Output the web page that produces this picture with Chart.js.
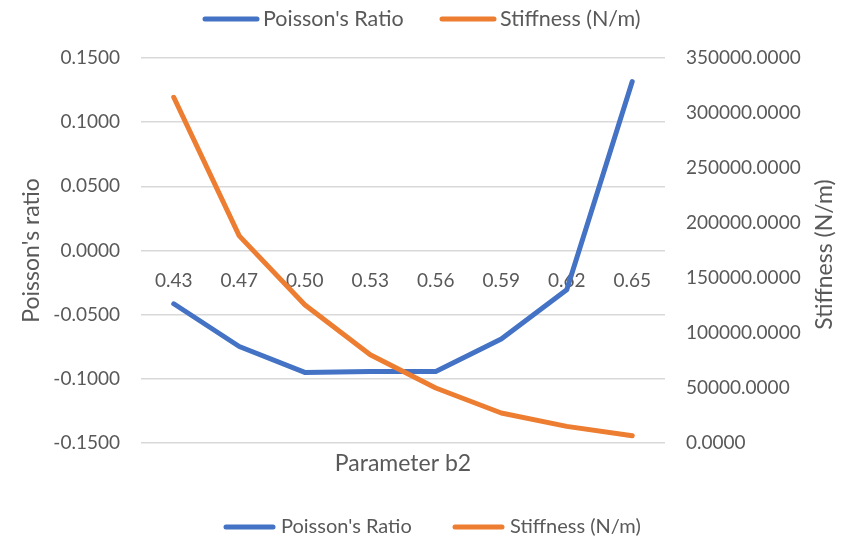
<!DOCTYPE html>
<html>
<head>
<meta charset="utf-8">
<title>Poisson's ratio and stiffness vs parameter b2</title>
<script src="https://cdn.jsdelivr.net/npm/chart.js@4"></script>
<style>
  html, body { margin: 0; padding: 0; background: #fff; }
  #chart { display: block; }
</style>
</head>
<body>
<canvas id="chart" width="843" height="542"></canvas>
<script>
  const categories = ['0.43', '0.47', '0.50', '0.53', '0.56', '0.59', '0.62', '0.65'];
  const poissonRatio = [-0.0415, -0.0748, -0.0950, -0.0942, -0.0942, -0.0690, -0.0306, 0.1316];
  const stiffness = [314300, 188300, 125600, 80200, 50000, 27300, 15100, 6600];

  // axis ranges: [min, max, step]
  const ratioRange = [-0.15, 0.15, 0.05];
  const stiffnessRange = [0, 350000, 50000];

  const BLUE = '#4472C4';
  const ORANGE = '#ED7D31';
  const TEXT = '#595959';
  const GRID = '#D9D9D9';
  const FONT = 'Lato';

  // legend rows drawn above and below the plot, plus the titles
  // that Chart.js cannot place the way Excel does
  const extraLabels = {
    id: 'extraLabels',
    afterDraw(chart) {
      const ctx = chart.ctx;
      const area = chart.chartArea;
      ctx.save();
      ctx.fillStyle = TEXT;
      ctx.font = '23px ' + FONT;
      ctx.textAlign = 'center';
      ctx.textBaseline = 'middle';
      ctx.fillText('Parameter b2', (area.left + area.right) / 2, 464);

      ctx.translate(825, (area.top + area.bottom) / 2 + 4);
      ctx.rotate(-Math.PI / 2);
      ctx.fillText('Stiffness (N/m)', 0, 0);
      ctx.restore();

      drawLegend(ctx, chart, 19, 21.5, [203, 440], 56, 4);
      drawLegend(ctx, chart, 527, 20, [224, 453], 51, 6);
    }
  };

  function drawLegend(ctx, chart, y, size, starts, lineLen, gap) {
    ctx.save();
    ctx.font = size + 'px ' + FONT;
    ctx.textAlign = 'left';
    ctx.textBaseline = 'middle';
    chart.data.datasets.forEach(function(ds, i) {
      const x = starts[i];
      ctx.strokeStyle = ds.borderColor;
      ctx.lineWidth = 5;
      ctx.lineCap = 'round';
      ctx.beginPath();
      ctx.moveTo(x + 2, y);
      ctx.lineTo(x + lineLen - 2, y);
      ctx.stroke();
      ctx.fillStyle = TEXT;
      ctx.fillText(ds.label, x + lineLen + gap, y);
    });
    ctx.restore();
  }

  function fixed4(value) {
    return Number(value).toFixed(4);
  }

  const ctx = document.getElementById('chart').getContext('2d');
  new Chart(ctx, {
    type: 'line',
    data: {
      labels: categories,
      datasets: [{
        label: "Poisson's Ratio",
        data: poissonRatio,
        borderColor: BLUE,
        backgroundColor: BLUE,
        borderWidth: 5,
        pointRadius: 0,
        tension: 0,
        borderCapStyle: 'round',
        borderJoinStyle: 'round',
        yAxisID: 'y',
        order: 1
      }, {
        label: 'Stiffness (N/m)',
        data: stiffness,
        borderColor: ORANGE,
        backgroundColor: ORANGE,
        borderWidth: 5,
        pointRadius: 0,
        tension: 0,
        borderCapStyle: 'round',
        borderJoinStyle: 'round',
        yAxisID: 'y1',
        order: 0
      }]
    },
    options: {
      responsive: false,
      animation: false,
      layout: {
        padding: { top: 58, bottom: 99, left: 0, right: 0 }
      },
      plugins: {
        legend: { display: false },
        tooltip: { enabled: false }
      },
      scales: {
        x: {
          type: 'category',
          position: { y: 0 },
          offset: true,
          grid: { display: false, drawTicks: false },
          border: { display: false },
          ticks: {
            color: TEXT,
            font: { family: FONT, size: 19 },
            padding: 19,
            maxRotation: 0,
            autoSkip: false
          }
        },
        y: {
          position: 'left',
          min: ratioRange[0],
          max: ratioRange[1],
          grid: { color: GRID, lineWidth: 1.5, drawTicks: false },
          border: { display: false },
          ticks: {
            stepSize: ratioRange[2],
            color: TEXT,
            font: { family: FONT, size: 19 },
            padding: 21,
            callback: fixed4
          },
          title: {
            display: true,
            text: "Poisson's ratio",
            color: TEXT,
            font: { family: FONT, size: 23 },
            padding: { top: 18, bottom: 0 }
          },
          afterFit: function(scale) { scale.width = 141; }
        },
        y1: {
          position: 'right',
          min: stiffnessRange[0],
          max: stiffnessRange[1],
          grid: { display: false, drawTicks: false },
          border: { display: false },
          ticks: {
            stepSize: stiffnessRange[2],
            color: TEXT,
            font: { family: FONT, size: 19 },
            padding: 21,
            callback: fixed4
          },
          afterFit: function(scale) { scale.width = 178; }
        }
      }
    },
    plugins: [extraLabels]
  });
</script>
</body>
</html>
